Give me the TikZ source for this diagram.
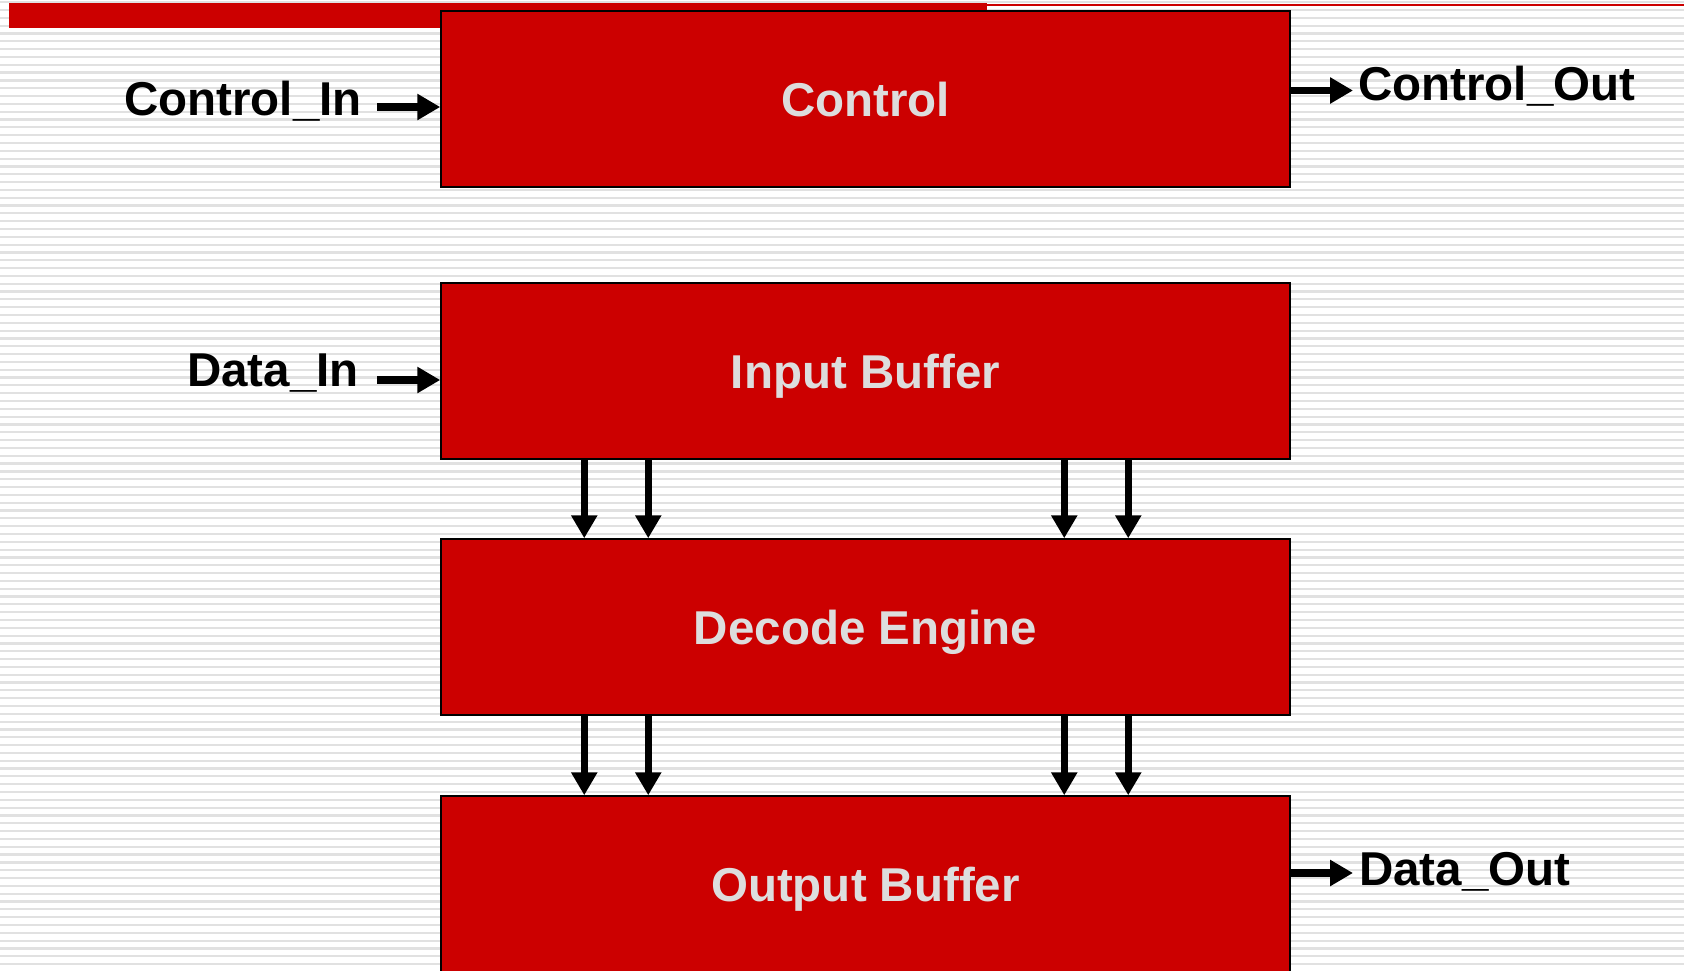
\documentclass[tikz,border=0pt]{standalone}
\usepackage{fontspec}
\setmainfont{Liberation Sans}
\usetikzlibrary{arrows.meta}
\definecolor{boxred}{HTML}{CC0000}
\definecolor{stripegray}{HTML}{E1E1E1}
\definecolor{labelgray}{HTML}{DDDDDD}
\tikzset{
  blockbox/.style={draw=black, line width=1.5pt, fill=boxred, minimum width=849pt, minimum height=176pt,
    inner sep=0pt, text height=34pt, text depth=0pt, text=labelgray,
    font=\bfseries\fontsize{47.5}{57}\selectfont},
  sig/.style={inner sep=0pt, font=\bfseries\fontsize{47.5}{57}\selectfont, text=black},
  arr/.style={line width=7.5pt, -{Triangle[width=25pt,length=23pt]}},
  stripe/.style={fill=stripegray}
}
\begin{document}
\begin{tikzpicture}[x=1pt,y=-1pt]
\useasboundingbox (0,0) rectangle (1684,970);
\fill[white] (0,0) rectangle (1684,970);
\foreach \i in {0,...,124} {
  \fill[stripe] (0,{2.2+7.82*\i-1.1}) rectangle (1684,{2.2+7.82*\i+1.1});
}
% top bar
\fill[boxred] (9,3.4) rectangle (987,27.7);
\draw[boxred, line width=2.2pt] (987,5.3) -- (1684,5.3);

% blocks
\node[blockbox] (ctrl) at (865.5,99) {Control};
\node[blockbox] (ib) at (865.5,371) {Input Buffer};
\node[blockbox] (de) at (865.5,627) {Decode Engine};
\node[blockbox] (ob) at (865.5,884) {Output Buffer};

% side signals
\coordinate (ci) at (377,107);
\coordinate (di) at (377,380);
\coordinate (co) at (1353,90.5);
\coordinate (dout) at (1353,873);
\draw[arr] (ci) -- (ci -| ctrl.west);
\draw[arr] (di) -- (di -| ib.west);
\draw[arr] (co -| ctrl.east) -- (co);
\draw[arr] (dout -| ob.east) -- (dout);

\node[sig, anchor=base east] (lci) at (362,115) {Control\_In};
\node[sig, anchor=base east] (ldi) at (359,386.7) {Data\_In};
\node[sig, anchor=base west] (lco) at (1358,100) {Control\_Out};
\node[sig, anchor=base west] (ldo) at (1359,885) {Data\_Out};

% vertical arrows
\foreach \dx in {144,208,624,688} {
  \draw[arr] ([xshift=\dx pt]ib.south west) -- ([xshift=\dx pt]de.north west);
  \draw[arr] ([xshift=\dx pt]de.south west) -- ([xshift=\dx pt]ob.north west);
}
\end{tikzpicture}
\end{document}
